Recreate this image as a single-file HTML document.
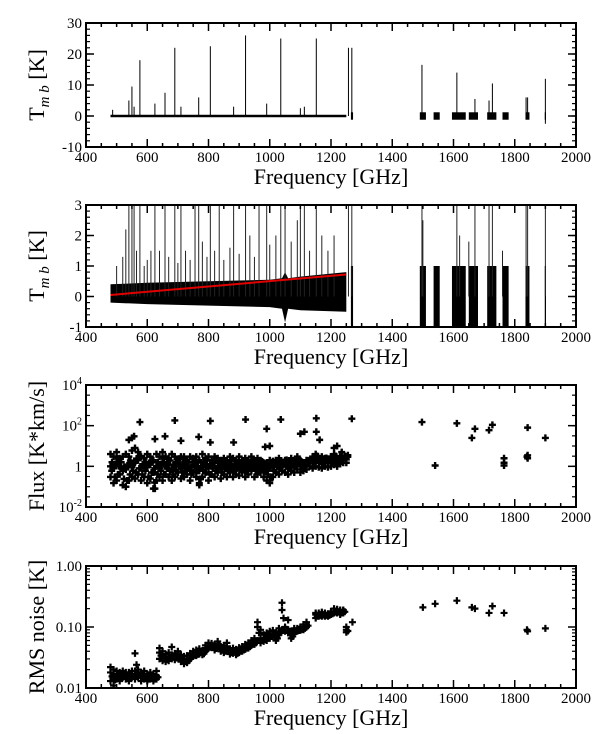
<!DOCTYPE html>
<html><head><meta charset="utf-8">
<style>
body{margin:0;background:#fff;}
svg{display:block;font-family:'Liberation Serif','DejaVu Serif',serif;}
svg text, svg tspan{font-family:'Liberation Serif','DejaVu Serif',serif !important;}
</style></head>
<body>
<svg id="chart" width="600" height="734" viewBox="0 0 600 734" xmlns="http://www.w3.org/2000/svg" font-family="'Liberation Serif','DejaVu Serif',serif"></svg>
<script>
// ---- data ----
const xTicks = [400,600,800,1000,1200,1400,1600,1800,2000];
const peakFreq1 = [487,540,550,557,576,625,658,690,710,768,806,882,921,990,1036,1100,1113,1152,1257,1268,1497,1611,1670,1716,1727,1837,1842,1900];
const peakHeight1 = [2,5,9.5,3,18,4,7.5,22,3,6,22.5,3,26,4,25,2.5,3,25,22,22,16.5,14,5.5,5,10.5,6,6,12];
const segStart = [480,1265,1490,1535,1595,1650,1710,1760,1835,1898];
const segEnd = [1250,1272,1510,1555,1640,1680,1740,1780,1848,1902];
const noiseFreq2 = [480,600,800,1000,1040,1050,1060,1100,1250];
const noiseLo2 = [-0.2,-0.25,-0.3,-0.35,-0.4,-0.85,-0.4,-0.45,-0.5];
const noiseHi2 = [0.4,0.45,0.5,0.55,0.6,0.8,0.6,0.65,0.8];
const peakFreq2 = [500,520,530,540,550,557,565,576,590,600,612,625,640,658,670,690,700,710,725,740,756,768,780,795,806,820,835,850,870,882,900,921,935,950,965,990,1000,1020,1036,1050,1070,1090,1100,1113,1130,1152,1170,1190,1210,1257,1268,1497,1500,1611,1620,1650,1670,1716,1727,1760,1837,1842,1900];
const peakHeight2 = [1,1.3,2.2,3,3,3,1.5,3,1,1.2,1.5,3,1.5,3,1.3,3,1.1,3,1.5,1.2,3,3,1.8,1.3,3,1.5,3,1.2,1.6,3,1.4,3,2,1.3,3,3,1.7,2,3,3,1.8,2.5,3,3,1.5,3,2,1.5,2,3,3,3,2.5,3,2,1.8,3,3,3,1.5,3,3,3];
const fitFreq = [480,1250];
const fitVal = [0.05,0.72];

const fluxFreq = [480,490,500,510,520,530,540,550,560,570,580,590,600,610,620,630,640,650,660,670,680,690,700,710,720,730,740,750,760,770,780,790,800,810,820,830,840,850,860,870,880,890,900,910,920,930,940,950,960,970,980,990,1000,1010,1020,1030,1040,1050,1060,1070,1080,1090,1100,1110,1120,1130,1140,1150,1160,1170,1180,1190,1200,1210,1220,1230,1240,1250];
const fluxVals = [[.3,1,4],[.15,.8,3],[.2,1.5,5],[.4,1,2.5],[.12,.6,3],[.1,.7,4],[.2,1.2,3],[.3,.9,6],[.25,1.5,8],[.4,2,5],[.2,.8,3],[.3,1,2.5],[.15,.9,4],[.25,1.2,3],[.08,.5,2],[.2,1,4],[.3,.8,3],[.2,1.5,5],[.4,1,3],[.3,1.2,2.5],[.2,.7,4],[.3,1,3],[.5,1.5,2],[.25,.8,3],[.3,1.3,3],[.4,1,2],[.2,.6,3],[.5,1.2,2.5],[.3,1,3],[.12,.6,2],[.3,1,4],[.5,1.2,2.5],[.2,.8,3],[.4,1,2],[.3,1.5,3],[.5,1,2.5],[.25,.7,2],[.4,1.2,2.5],[.3,.9,2],[.5,1.1,3],[.3,.8,2.5],[.4,1,2],[.35,.8,3],[.5,1.2,2],[.3,1,2.5],[.4,.9,2],[.6,1.3,3],[.3,.8,2],[.4,1,2.5],[.5,1.1,2],[.3,.7,1.5],[.2,.6,1.5],[.15,.8,2],[.3,1,1.8],[.5,1.2,2],[.4,.9,2.5],[.6,1,1.5],[.5,1.3,2],[.4,.8,1.5],[.6,1,2.5],[.5,1.1,2],[.7,1.4,3],[.5,1,2],[.6,.9,1.5],[.7,1.2,2],[1,1.4,2],[.8,1.5,3],[1,2,4],[.9,1.5,2.5],[.8,1.3,3],[1,1.6,2.5],[.9,1.4,2],[1,1.8,3],[1.2,2,4],[1,1.5,2.5],[1.3,2,3],[1.5,2,2.5],[1.5,2.2,3]];
const fluxOutFreq = [576,690,806,921,1036,1152,1268,1497,1611,1716,1727,1842,1900,540,550,557,625,658,710,768,806,882,990,1100,1113,1152,1163,1540,1660,1670,1765,1765,1765,1840,1842,1842,1000,985,1210,1220,1235,1255,1200,530,625,770,1000];
const fluxOutVal = [150,180,170,200,200,230,220,150,130,60,110,80,25,20,25,30,22,30,18,28,15,15,70,40,50,50,20,1.1,25,70,2.5,1.5,1.1,3,2.5,3.5,10,9,8,10,5,3,3,.1,.08,.15,.2];

const rmsFreq = [480,490,500,510,520,530,540,550,560,570,580,590,600,610,620,630,640,650,660,670,680,690,700,710,720,730,740,750,760,770,780,790,800,810,820,830,840,850,860,870,880,890,900,910,920,930,940,950,960,970,980,990,1000,1010,1020,1030,1040,1050,1060,1070,1080,1090,1100,1110,1120,1150,1160,1170,1180,1190,1200,1210,1220,1230,1240,1250];
const rmsVals = [[.013,.018,.022],[.011,.016,.02],[.014,.017,.019],[.013,.016,.018],[.015,.017,.019],[.014,.016,.018],[.013,.017,.018],[.015,.016,.019],[.014,.017,.019],[.015,.018,.02],[.013,.016,.018],[.014,.017,.019],[.013,.015,.017],[.014,.016,.018],[.013,.015,.017],[.014,.016,.019],[.03,.038,.045],[.028,.033,.04],[.027,.031,.036],[.028,.033,.038],[.03,.035,.047],[.029,.033,.037],[.031,.036,.04],[.027,.031,.035],[.025,.029,.033],[.026,.03,.034],[.03,.034,.037],[.033,.036,.04],[.034,.037,.042],[.036,.04,.044],[.035,.038,.041],[.04,.045,.05],[.045,.05,.055],[.046,.05,.054],[.042,.047,.052],[.048,.053,.058],[.04,.044,.048],[.038,.042,.05],[.042,.046,.055],[.036,.04,.044],[.037,.041,.045],[.035,.039,.043],[.038,.042,.046],[.04,.044,.048],[.043,.047,.052],[.045,.05,.055],[.05,.055,.06],[.052,.058,.065],[.06,.1,.12],[.055,.065,.09],[.058,.066,.075],[.06,.07,.08],[.065,.075,.085],[.07,.078,.088],[.06,.07,.08],[.075,.085,.095],[.09,.19,.25],[.085,.095,.1],[.08,.09,.13],[.065,.075,.085],[.08,.088,.095],[.085,.09,.095],[.088,.095,.1],[.09,.1,.11],[.1,.11,.12],[.14,.16,.17],[.15,.16,.17],[.15,.165,.175],[.15,.16,.17],[.15,.16,.165],[.16,.17,.18],[.17,.18,.2],[.17,.185,.195],[.16,.18,.19],[.17,.185,.19],[.082,.09,.1]];
const rmsOutFreq = [560,565,1270,1500,1540,1611,1660,1670,1716,1727,1765,1840,1842,1900];
const rmsOutVal = [.037,.024,.12,.21,.24,.27,.21,.2,.17,.22,.17,.09,.085,.095];

// ---- helpers ----
const NS = "http://www.w3.org/2000/svg";
const FONT = "'Liberation Serif','DejaVu Serif',serif";
const svg = document.getElementById('chart');
const X0 = 86, X1 = 576;
function el(tag, attrs, parent){const e=document.createElementNS(NS,tag);for(const k in attrs)e.setAttribute(k,attrs[k]);if(tag==='text'){e.setAttribute('font-family',FONT);}(parent||svg).appendChild(e);return e;}
function xs(f){return X0+(f-400)/1600*(X1-X0);}

function makePanel(id, top, bot, yScale, yTicksMajor, yTicksMinor, yLabels, titleHTML){
  const g = el('g',{});
  
  
  const plot = el('g',{},g);
  
  
  const axes = el('g',{},g);
  
  
  for(let f=400; f<=2000; f+=50){
    const maj = (f%200===0), L = maj?8:4, x=xs(f);
    el('line',{x1:x,y1:bot,x2:x,y2:bot-L,stroke:'#000','stroke-width':1.5},axes);
    el('line',{x1:x,y1:top,x2:x,y2:top+L,stroke:'#000','stroke-width':1.5},axes);
  }
  xTicks.forEach(f=>{
    const t=el('text',{x:xs(f),y:bot+15,'text-anchor':'middle','font-size':15},axes);
    
    
    t.textContent=f;
  });
  yTicksMajor.forEach(v=>{const y=yScale(v);
    el('line',{x1:X0,y1:y,x2:X0+8,y2:y,stroke:'#000','stroke-width':1.5},axes);
    el('line',{x1:X1,y1:y,x2:X1-8,y2:y,stroke:'#000','stroke-width':1.5},axes);});
  yTicksMinor.forEach(v=>{const y=yScale(v);
    el('line',{x1:X0,y1:y,x2:X0+4,y2:y,stroke:'#000','stroke-width':1.2},axes);
    el('line',{x1:X1,y1:y,x2:X1-4,y2:y,stroke:'#000','stroke-width':1.2},axes);});
  yLabels.forEach(([v,html])=>{
    const t=el('text',{x:X0-4,y:yScale(v)+5,'text-anchor':'end','font-size':15},axes);
    
    
    t.innerHTML=html;
  });
  const fr=el('rect',{x:X0,y:top,width:X1-X0,height:bot-top,fill:'none',stroke:'#000','stroke-width':2},axes);
  
  
  const xt=el('text',{x:(X0+X1)/2,y:bot+37,'text-anchor':'middle','font-size':22},axes);
  
  
  xt.textContent='Frequency [GHz]';
  const yc=(top+bot)/2;
  const yt=el('text',{x:0,y:0,'text-anchor':'middle','font-size':22,transform:`translate(44,${yc}) rotate(-90)`},axes);
  
  
  yt.innerHTML=titleHTML;
  return plot;
}
function range(a,b,s){const r=[];for(let v=a;v<=b+1e-9;v+=s)r.push(+v.toFixed(6));return r;}
const tmbTitle='T<tspan font-size="15" font-style="italic" dy="5">m b</tspan><tspan dy="-5"> [K]</tspan>';

// ---- panel 1 ----
{
  const top=23,bot=147, ys=v=>bot-(v+10)/40*(bot-top);
  const p=makePanel('panel-tmb-full',top,bot,ys,[-10,0,10,20,30],range(-10,30,2),[[-10,'-10'],[0,'0'],[10,'10'],[20,'20'],[30,'30']],tmbTitle);
  segStart.forEach((s,i)=>{
    const a = i===0?0.4:1.2;
    const r=el('rect',{x:xs(s),y:ys(a),width:xs(segEnd[i])-xs(s),height:ys(-a)-ys(a),fill:'#000'},p);
    
    
  });
  peakFreq1.forEach((f,i)=>{
    const l=el('line',{x1:xs(f),y1:ys(0),x2:xs(f),y2:ys(peakHeight1[i]),stroke:'#000','stroke-width':1},p);
    
    
  });
  const neg=el('line',{x1:xs(1900),y1:ys(0),x2:xs(1900),y2:ys(-2.5),stroke:'#000','stroke-width':1},p);
  
  
}
// ---- panel 2 ----
{
  const top=205,bot=327, ys=v=>bot-(v+1)/4*(bot-top);
  const p=makePanel('panel-tmb-zoom',top,bot,ys,[-1,0,1,2,3],range(-1,3,0.2),[[-1,'-1'],[0,'0'],[1,'1'],[2,'2'],[3,'3']],tmbTitle);
  let pts=noiseFreq2.map((f,i)=>`${xs(f)},${ys(noiseHi2[i])}`);
  for(let i=noiseFreq2.length-1;i>=0;i--)pts.push(`${xs(noiseFreq2[i])},${ys(noiseLo2[i])}`);
  const poly=el('polygon',{points:pts.join(' '),fill:'#000'},p);
  
  
  segStart.slice(1).forEach((s,i)=>{
    const r=el('rect',{x:xs(s),y:ys(1),width:xs(segEnd[i+1])-xs(s),height:ys(-1)-ys(1),fill:'#000'},p);
    
    
  });
  peakFreq2.forEach((f,i)=>{
    const l=el('line',{x1:xs(f),y1:ys(0),x2:xs(f),y2:ys(Math.min(3,peakHeight2[i])),stroke:'#222','stroke-width':1},p);
    
    
  });
  const fit=el('line',{x1:xs(fitFreq[0]),y1:ys(fitVal[0]),x2:xs(fitFreq[1]),y2:ys(fitVal[1]),stroke:'#e00000','stroke-width':2},p);
  
  
}
function plus(p,x,y,s,w){
  const g=el('path',{d:`M${x-s},${y}H${x+s}M${x},${y-s}V${y+s}`,stroke:'#000','stroke-width':w,fill:'none'},p);
  
  
}
// ---- panel 3 ----
{
  const top=385,bot=507, ys=v=>bot-(Math.log10(v)+2)/6*(bot-top);
  const minors=[];for(let e=-2;e<=4;e+=0.5)minors.push(Math.pow(10,e));
  const p=makePanel('panel-flux',top,bot,ys,[0.01,1,100,10000],minors,[[0.01,'10<tspan font-size="10" dy="-6">-2</tspan>'],[1,'1'],[100,'10<tspan font-size="10" dy="-6">2</tspan>'],[10000,'10<tspan font-size="10" dy="-6">4</tspan>']],'Flux [K*km/s]');
  fluxFreq.forEach((f,i)=>fluxVals[i].forEach(v=>plus(p,xs(f),ys(v),3.5,2.4)));
  fluxFreq.forEach((f,i)=>{plus(p,xs(f+5),ys(fluxVals[i][1]*1.6),3.5,2.4);plus(p,xs(f+4),ys(fluxVals[i][0]*2),3.5,2.4);});
  fluxOutFreq.forEach((f,i)=>plus(p,xs(f),ys(fluxOutVal[i]),3.5,2.4));
}
// ---- panel 4 ----
{
  const top=566,bot=688, ys=v=>bot-(Math.log10(v)+2)/2*(bot-top);
  const minors=[];for(let e=-2;e<0;e++)for(let m=2;m<=9;m++)minors.push(m*Math.pow(10,e));
  const p=makePanel('panel-rms',top,bot,ys,[0.01,0.1,1],minors,[[0.01,'0.01'],[0.1,'0.10'],[1,'1.00']],'RMS noise [K]');
  rmsFreq.forEach((f,i)=>rmsVals[i].forEach(v=>plus(p,xs(f),ys(v),3.5,2.2)));
  rmsFreq.forEach((f,i)=>plus(p,xs(f+5),ys((rmsVals[i][0]+rmsVals[i][1])/2),3.5,2.2));
  rmsOutFreq.forEach((f,i)=>plus(p,xs(f),ys(rmsOutVal[i]),3.5,2.2));
}
</script>
</body></html>
